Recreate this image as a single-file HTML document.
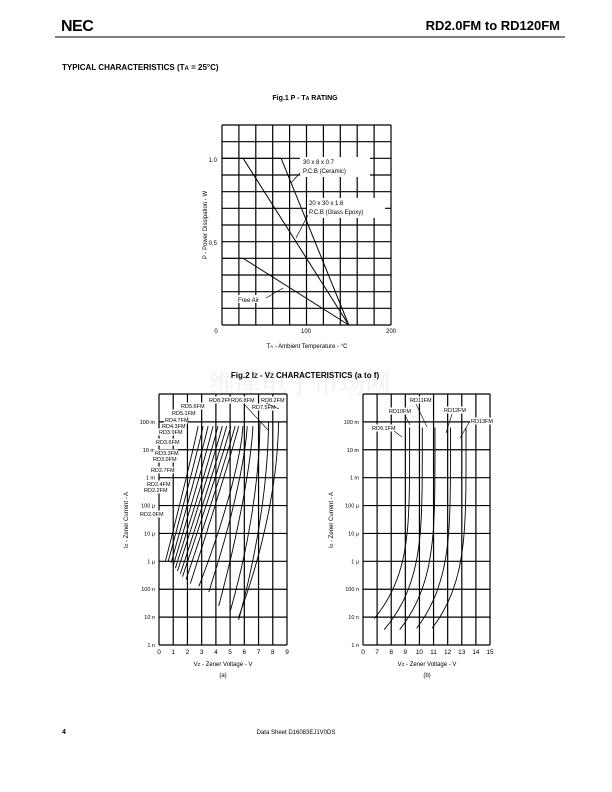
<!DOCTYPE html>
<html><head><meta charset="utf-8"><style>
body{margin:0;background:#fff}
svg{display:block;font-family:"Liberation Sans",Arial,sans-serif}
</style></head><body>
<svg id="s" width="612" height="792" viewBox="0 0 612 792" xmlns="http://www.w3.org/2000/svg">
<text x="61" y="31" font-size="16" font-weight="bold" font-family="Liberation Sans" style="letter-spacing:-0.5px">NEC</text>
<text x="560" y="30" font-size="13" font-weight="bold" text-anchor="end">RD2.0FM to RD120FM</text>
<line x1="55" y1="37" x2="565" y2="37" stroke="#555" stroke-width="1.5"/>
<text x="62" y="70" font-size="8" font-weight="bold">TYPICAL CHARACTERISTICS (T<tspan font-size="6">A</tspan> = 25°C)</text>
<text x="305" y="100" font-size="7" font-weight="bold" text-anchor="middle">Fig.1  P - T<tspan font-size="5">A</tspan> RATING</text>
<text x="300" y="393" font-size="26" fill="#f0f0f0" text-anchor="middle" font-family="Noto Serif CJK SC,serif">维库电子市场网</text>
<text x="305" y="378" font-size="8" font-weight="bold" text-anchor="middle">Fig.2  I<tspan font-size="6">Z</tspan> - V<tspan font-size="6">Z</tspan> CHARACTERISTICS (a to f)</text>
<text x="62" y="734" font-size="7" font-weight="bold">4</text>
<text x="296" y="734" font-size="6" text-anchor="middle">Data Sheet  D16083EJ1V0DS</text>
<g id="g"></g>
</svg>
<script>
var g=document.getElementById('g'),h='';
function L(x1,y1,x2,y2,w){h+='<line x1="'+x1+'" y1="'+y1+'" x2="'+x2+'" y2="'+y2+'" stroke="#000" stroke-width="'+(w||0.8)+'"/>';}
function T(x,y,t,a,s){h+='<text x="'+x+'" y="'+y+'" font-size="'+(s||6)+'" text-anchor="'+(a||'start')+'">'+t+'</text>';}
function TB(x,y,t,a,s){var w=t.length*3.1+2;var x0=a=='end'?x-w:x;h+='<rect x="'+x0+'" y="'+(y-5.5)+'" width="'+w+'" height="7" fill="#fff"/>';T(x0+1,y,t,'start',s||5.5);}
var X0=222,X1=391,Y0=125,Y1=325;
for(var i=0;i<=10;i++){var x=X0+i*(X1-X0)/10;L(x,Y0,x,Y1,1.2);}
for(var i=0;i<=12;i++){var y=Y0+i*(Y1-Y0)/12;L(X0,y,X1,y,1.2);}
function fx(t){return X0+t*(X1-X0)/200}function fy(p){return Y1-p*(Y1-Y0)/1.2}
h+='<polyline fill="none" stroke="#000" stroke-width="1" points="'+fx(0)+','+fy(1)+' '+fx(70)+','+fy(1)+' '+fx(150)+','+fy(0)+'"/>';
h+='<polyline fill="none" stroke="#000" stroke-width="1" points="'+fx(0)+','+fy(1)+' '+fx(25)+','+fy(1)+' '+fx(150)+','+fy(0)+'"/>';
h+='<polyline fill="none" stroke="#000" stroke-width="1" points="'+fx(0)+','+fy(.4)+' '+fx(25)+','+fy(.4)+' '+fx(150)+','+fy(0)+'"/>';
h+='<rect x="300" y="157" width="70" height="20" fill="#fff"/>';T(303,164,'30 x 8 x 0.7');T(303,173,'P.C.B (Ceramic)');
h+='<rect x="307" y="198" width="78" height="20" fill="#fff"/>';T(309,205,'20 x 30 x 1.6');T(309,214,'P.C.B (Glass Epoxy)');
h+='<rect x="236" y="295" width="30" height="8" fill="#fff"/>';T(238,302,'Free Air');
L(300,173,291,183,0.7);L(308,215,296,238,0.7);L(266,298,283,288,0.7);
T(217,162,'1.0','end');T(217,245,'0.5','end');T(216,333,'0','middle');T(306,333,'100','middle');T(391,333,'200','middle');
T(307,348,'T<tspan font-size="4.5">A</tspan> - Ambient Temperature - °C','middle');
h+='<text transform="translate(207,225) rotate(-90)" font-size="6" text-anchor="middle">P - Power Dissipation - W</text>';
var YT=394,YB=645,dec=(YB-YT)/9;
function grid(x0,x1){for(var i=0;i<=9;i++){var x=x0+i*(x1-x0)/9;L(x,YT,x,YB,1.2);}for(var i=0;i<=9;i++){L(x0,YT+i*dec,x1,YT+i*dec,1.2);}}
var yl=['100 m','10 m','1 m','100 μ','10 μ','1 μ','100 n','10 n','1 n'];
function ylab(x){for(var i=0;i<9;i++)T(x,YT+(i+1)*dec+2,yl[i],'end',5.5);}
var A0=159,A1=287,B0=363,B1=490;
grid(A0,A1);grid(B0,B1);ylab(155);ylab(359);
for(var i=0;i<=9;i++)T(A0+i*(A1-A0)/9,654,''+i,'middle',6.5);
var bl=['0','7','8','9','10','11','12','13','14','15'];
for(var i=0;i<=9;i++)T(B0+i*(B1-B0)/9,654,bl[i],'middle',6.5);
T(223,666,'V<tspan font-size="4.5">Z</tspan> - Zener Voltage - V','middle');T(223,677,'(a)','middle');
T(427,666,'V<tspan font-size="4.5">Z</tspan> - Zener Voltage - V','middle');T(427,677,'(b)','middle');
h+='<text transform="translate(128,520) rotate(-90)" font-size="6" text-anchor="middle">I<tspan font-size="4.5">Z</tspan> - Zener Current - A</text>';
h+='<text transform="translate(333,520) rotate(-90)" font-size="6" text-anchor="middle">I<tspan font-size="4.5">Z</tspan> - Zener Current - A</text>';
function ly(l){return YB-(l+9)*dec}
function curve(ax0,ax1,vmin,v0,l0,v1,l1,k){var p=[];for(var j=0;j<=30;j++){var t=j/30;var l=l0+t*(l1-l0);var v=v1-(v1-v0)*Math.pow(1-t,k);p.push((ax0+(v-vmin)*(ax1-ax0)/9).toFixed(1)+','+ly(l).toFixed(1));}h+='<polyline fill="none" stroke="#000" stroke-width="0.9" points="'+p.join(' ')+'"/>';}
var ca=[[0.45,-6,2.75],[0.65,-6,3.1],[0.85,-6.05,3.45],[1.0,-6.15,3.8],[1.15,-6.25,4.15],[1.3,-6.35,4.45],[1.5,-6.45,4.75],[1.65,-6.55,5.05],[1.9,-6.65,5.35],[2.2,-6.8,5.6],[2.8,-6.9,5.9],[3.5,-7.1,6.2],[4.2,-7.6,6.6],[5.0,-7.8,7.1],[5.6,-8.1,7.7],[5.6,-8.0,8.4]];
ca.forEach(function(c,i){var k=i<10?1.05:(i<13?1.4:1.8);var lt=i<13?-1.15:-1.0;curve(A0,A1,0,c[0],c[1],c[2],lt,k);});
var cb=[[6.8,-8.05,9.3],[7.5,-8.45,10.2],[8.6,-8.45,11.1],[9.8,-8.4,12.2],[10.9,-8.4,13.3]];
cb.forEach(function(c){curve(B0,B1,6,c[0],c[1],c[2],-1.2,4.5);});
var la=[['RD8.2FM',208,402],['RD5.6FM',180,408],['RD5.1FM',171,415],['RD4.7FM',164,422],['RD4.3FM',161,428],['RD3.9FM',158,434],['RD3.6FM',155,444],['RD3.3FM',154,455],['RD3.0FM',152,461],['RD2.7FM',150,472],['RD2.4FM',146,486],['RD2.2FM',143,492],['RD2.0FM',139,516]];
la.forEach(function(a){TB(a[1],a[2],a[0]);});
TB(230,402,'RD6.8FM');TB(260,402,'RD8.2FM');TB(251,409,'RD7.5FM');
TB(409,402,'RD11FM');TB(388,413,'RD10FM');TB(371,430,'RD9.1FM');TB(443,412,'RD12FM');TB(470,423,'RD13FM');
L(416,404,427,427,0.6);L(405,415,410,425,0.6);L(394,431,402,437,0.6);L(452,414,446,433,0.6);L(470,421,460,438,0.6);
L(244,404,268,430,0.6);L(266,403,279,409,0.6);
g.innerHTML=h;
</script>
</body></html>
